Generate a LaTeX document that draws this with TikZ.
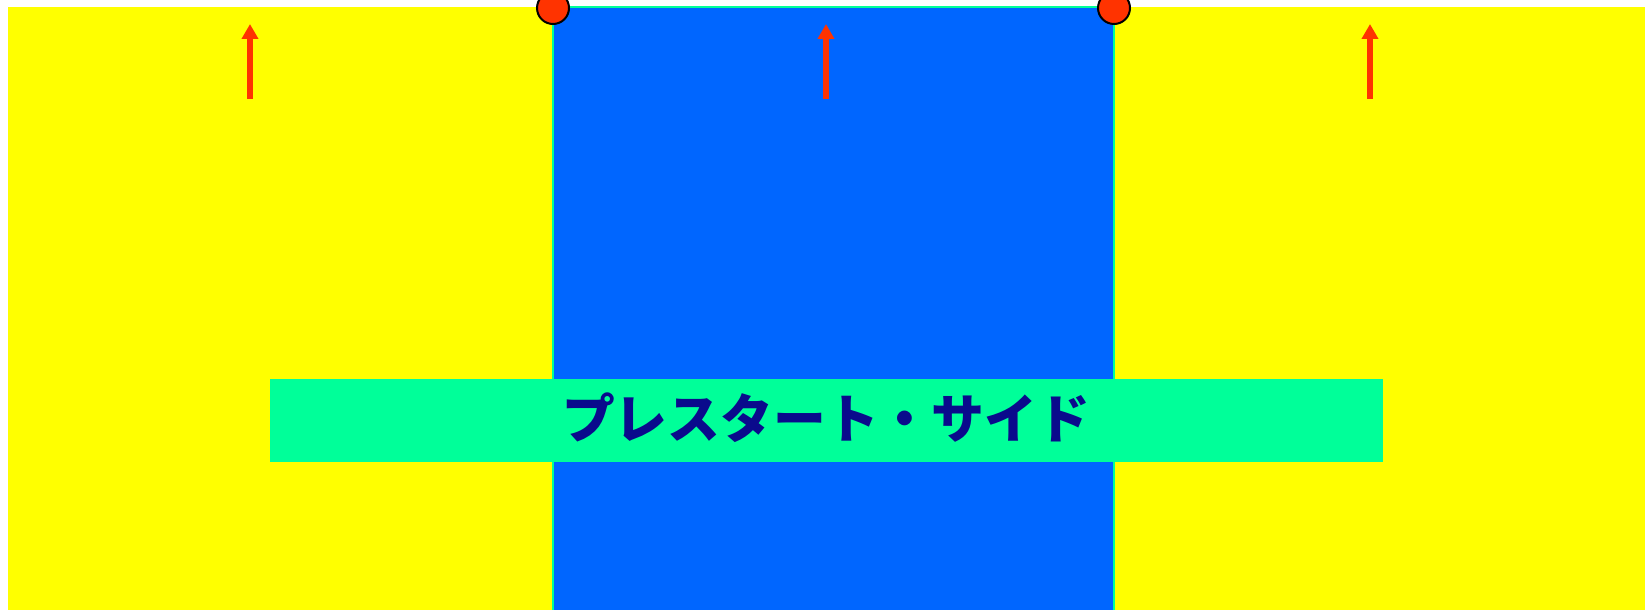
\documentclass[tikz,border=0pt]{standalone}
\usepackage{fontspec}
\newfontfamily\jpfont{Noto Sans CJK JP}
\usepackage{tikz}
\usetikzlibrary{arrows.meta,positioning}

\definecolor{zoneY}{HTML}{FFFF00}
\definecolor{zoneB}{HTML}{0066FF}
\definecolor{bandG}{HTML}{00FF99}
\definecolor{pinR}{HTML}{FF3300}
\definecolor{inkN}{HTML}{0A0A8C}

\begin{document}
\begin{tikzpicture}[
  x=0.5pt, y=-0.5pt,
  zone/.style={inner sep=0pt, outer sep=0pt, anchor=north west},
  pin/.style={circle, fill=pinR, draw=black, line width=1pt,
              minimum size=16pt, inner sep=0pt},
  arr/.style={-{Triangle[width=8pt,length=7.5pt]}, line width=2.6pt, draw=pinR},
  band/.style={fill=bandG, inner sep=0pt, anchor=north west,
               minimum width=556.5pt, minimum height=41.5pt},
]
\useasboundingbox (0,0) rectangle (1649,610);
\clip (0,0) rectangle (1649,610);

% ---- zones ----
\node[zone, fill=zoneY, minimum width=272.5pt, minimum height=305pt] (L) at (8,7) {};
\node[zone, fill=zoneB, draw=bandG, line width=0.75pt,
      minimum width=280.5pt, minimum height=310pt] (M) at (553,7) {};
\node[zone, fill=zoneY, minimum width=265pt, minimum height=305pt] (R) at (1114.5,7) {};

% ---- arrows ----
\coordinate (aLs) at (250,99);  \coordinate (aLe) at (250,24);
\coordinate (aMs) at (826,99);  \coordinate (aMe) at (826,24);
\coordinate (aRs) at (1370,99); \coordinate (aRe) at (1370,24);
\draw[arr] (aLs) -- (aLe);
\draw[arr] (aMs) -- (aMe);
\draw[arr] (aRs) -- (aRe);

% ---- pins on the borders ----
\node[pin] (P1) at (553,8) {};
\node[pin] (P2) at (1114,8) {};

% ---- label band ----
\node[band] (B) at (270,379) {};
\node[font=\jpfont\bfseries\fontsize{26.4pt}{29pt}\selectfont, text=inkN]
  (T) at (826,418) {プレスタート・サイド};

\end{tikzpicture}
\end{document}
